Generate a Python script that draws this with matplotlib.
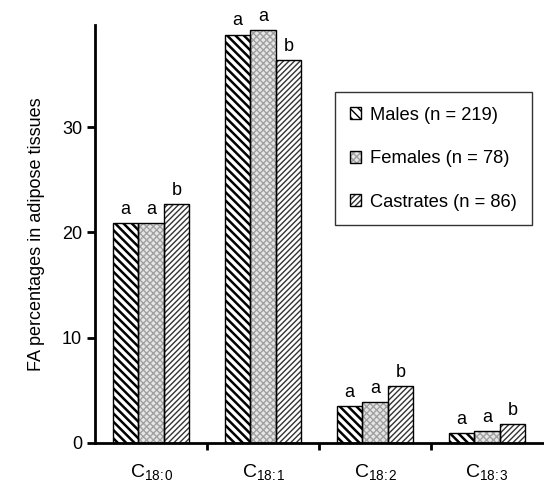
import numpy as np
import matplotlib
matplotlib.use('Agg')
import matplotlib.pyplot as plt

plt.rcParams['font.family'] = ['Liberation Sans', 'DejaVu Sans']
plt.rcParams['mathtext.default'] = 'regular'

# data
acidos = [r'C$_{18\!:\!0}$', r'C$_{18\!:\!1}$', r'C$_{18\!:\!2}$', r'C$_{18\!:\!3}$']
machos = [20.9, 38.8, 3.5, 0.95]
femeas = [20.9, 39.2, 3.9, 1.1]
castrados = [22.7, 36.4, 5.4, 1.8]
grupos = ['Males (n = 219)', 'Females (n = 78)', 'Castrates (n = 86)']
letras = [['a', 'a', 'b'], ['a', 'a', 'b'], ['a', 'a', 'b'], ['a', 'a', 'b']]
y_ticks = [0, 10, 20, 30]

fig = plt.figure(figsize=(5.44, 4.82), dpi=100)
ax = fig.add_axes([0.175, 0.081, 0.823, 0.867])

x = np.arange(len(acidos))
w = 0.228
estilos = [
    # face, hatch, hatch colour, hatch width
    ('white', '\\\\\\\\', 'black', 1.8),
    ('#e6e6e6', 'xxxxx', '#a0a0a0', 1.0),
    ('white', '//////', '#333333', 1.0),
]
series = [machos, femeas, castrados]
handles = []
for i, (vals, (fc, h, hc, hw)) in enumerate(zip(series, estilos)):
    pos = x + (i - 1) * w
    plt.rcParams['hatch.linewidth'] = hw
    b = ax.bar(pos, vals, w, color=fc, edgecolor=hc, hatch=h, linewidth=0, zorder=2)
    for p in b.patches:
        if hasattr(p, 'set_hatch_linewidth'):
            p.set_hatch_linewidth(hw)
    c = ax.bar(pos, vals, w, color='none', edgecolor='black', linewidth=1.0, zorder=3)
    handles.append((b, c))
    for j, v in enumerate(vals):
        ax.text(pos[j], v + 0.5, letras[j][i], ha='center', va='bottom', fontsize=13)

ax.set_xlim(-0.5, 3.5)
ax.set_ylim(0, 39.7)
ax.set_yticks(y_ticks)
ax.set_xticks(x)
ax.set_xticklabels(acidos, fontsize=14)
ax.set_xticks([0.5, 1.5, 2.5], minor=True)
ax.tick_params(axis='x', which='major', length=0, pad=14)
ax.tick_params(axis='x', which='minor', length=5, width=2, direction='out')
ax.tick_params(axis='y', labelsize=13, length=6, width=2, direction='out')
ax.set_ylabel('FA percentages in adipose tissues', fontsize=13, labelpad=12)
for s in ['top', 'right']:
    ax.spines[s].set_visible(False)
for s in ['left', 'bottom']:
    ax.spines[s].set_linewidth(2)

leg = ax.legend(handles, grupos, loc='upper right', bbox_to_anchor=(0.975, 0.84),
                borderaxespad=0, fontsize=13.2, frameon=True, fancybox=False,
                handlelength=0.6, handleheight=0.6, labelspacing=1.45,
                borderpad=0.8, handletextpad=0.5)
leg.get_frame().set_edgecolor('black')
leg.get_frame().set_linewidth(1.0)

fig.savefig('out.png', dpi=100)
